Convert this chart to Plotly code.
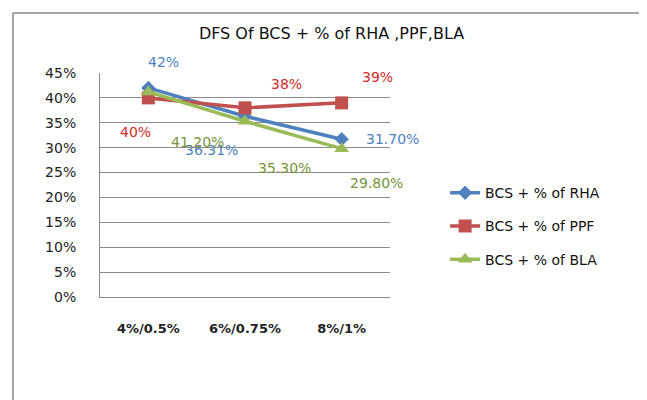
import plotly.graph_objects as go

categories = ["4%/0.5%", "6%/0.75%", "8%/1%"]
rha = [0.42, 0.3631, 0.317]
ppf = [0.40, 0.38, 0.39]
bla = [0.412, 0.353, 0.298]
rha_labels = ["42%", "36.31%", "31.70%"]
ppf_labels = ["40%", "38%", "39%"]
bla_labels = ["41.20%", "35.30%", "29.80%"]
y_ticks = [0, 0.05, 0.10, 0.15, 0.20, 0.25, 0.30, 0.35, 0.40, 0.45]

FONT = "DejaVu Sans"
blue, red, green = "#4F81BD", "#C0504D", "#9BBB59"
blue_lbl, red_lbl, green_lbl = "#4F81BD", "#D42A2A", "#77933C"

fig = go.Figure()
fig.add_trace(go.Scatter(x=categories, y=rha, name="BCS + % of RHA", mode="lines+markers",
                         line=dict(color=blue, width=3.5), marker=dict(symbol="diamond", size=11, color=blue),
                         legendgroup="a"))
fig.add_trace(go.Scatter(x=categories, y=ppf, name="BCS + % of PPF", mode="lines+markers",
                         line=dict(color=red, width=3.5), marker=dict(symbol="square", size=13, color=red),
                         legendgroup="b"))
fig.add_trace(go.Scatter(x=categories, y=bla, name="BCS + % of BLA", mode="lines+markers",
                         line=dict(color=green, width=3.5), marker=dict(symbol="triangle-up", size=13, color=green),
                         legendgroup="c"))

# label offsets (pixels) relative to each point
rha_off = [(15, 26), (-34, -34), (51, 0)]
ppf_off = [(-13, -34), (41, 24), (36, 26)]
bla_off = [(49, -50), (39, -47), (35, -34)]
anns = []
for vals, labels, offs, col in [(rha, rha_labels, rha_off, blue_lbl),
                                (ppf, ppf_labels, ppf_off, red_lbl),
                                (bla, bla_labels, bla_off, green_lbl)]:
    for c, v, t, (dx, dy) in zip(categories, vals, labels, offs):
        anns.append(dict(x=c, y=v, xref="x", yref="y", text=t, showarrow=False,
                         xshift=dx, yshift=dy, font=dict(family=FONT, size=14, color=col)))

fig.update_layout(
    width=647, height=400,
    margin=dict(l=92, r=265, t=65, b=111),
    paper_bgcolor="white", plot_bgcolor="white",
    font=dict(family=FONT, size=14, color="#222"),
    title=dict(text="DFS Of BCS + % of RHA ,PPF,BLA", x=0.5, xanchor="center",
               y=1 - 25 / 400, yanchor="middle", yref="container",
               font=dict(family=FONT, size=16, color="#111")),
    xaxis=dict(type="category", range=[-0.5, 2.5], showgrid=False, showline=True,
               linecolor="#888", linewidth=1, ticks="", ticklabelstandoff=19,
               tickfont=dict(family=FONT, size=13, color="#222", weight="bold"), zeroline=False),
    yaxis=dict(range=[0, 0.45], tickvals=y_ticks, tickformat=".0%", showgrid=True,
               gridcolor="#8c8c8c", gridwidth=1, showline=True, linecolor="#888", linewidth=1,
               ticks="", ticklabelstandoff=20, tickfont=dict(family=FONT, size=14, color="#222"),
               zeroline=False),
    legend=dict(x=1.19, y=0.535, xanchor="left", yanchor="top", tracegroupgap=12,
                font=dict(family=FONT, size=14, color="#111"), bgcolor="rgba(0,0,0,0)"),
    annotations=anns,
    showlegend=True,
)

# outer chart border (left and top edges visible)
fig.add_shape(type="line", xref="paper", yref="paper", x0=-0.3, x1=-0.3, y0=1.268, y1=-0.6,
              line=dict(color="#888", width=1.5))
fig.add_shape(type="line", xref="paper", yref="paper", x0=-0.3, x1=2.0, y0=1.268, y1=1.268,
              line=dict(color="#888", width=1.5))

fig.write_html("out.html")
